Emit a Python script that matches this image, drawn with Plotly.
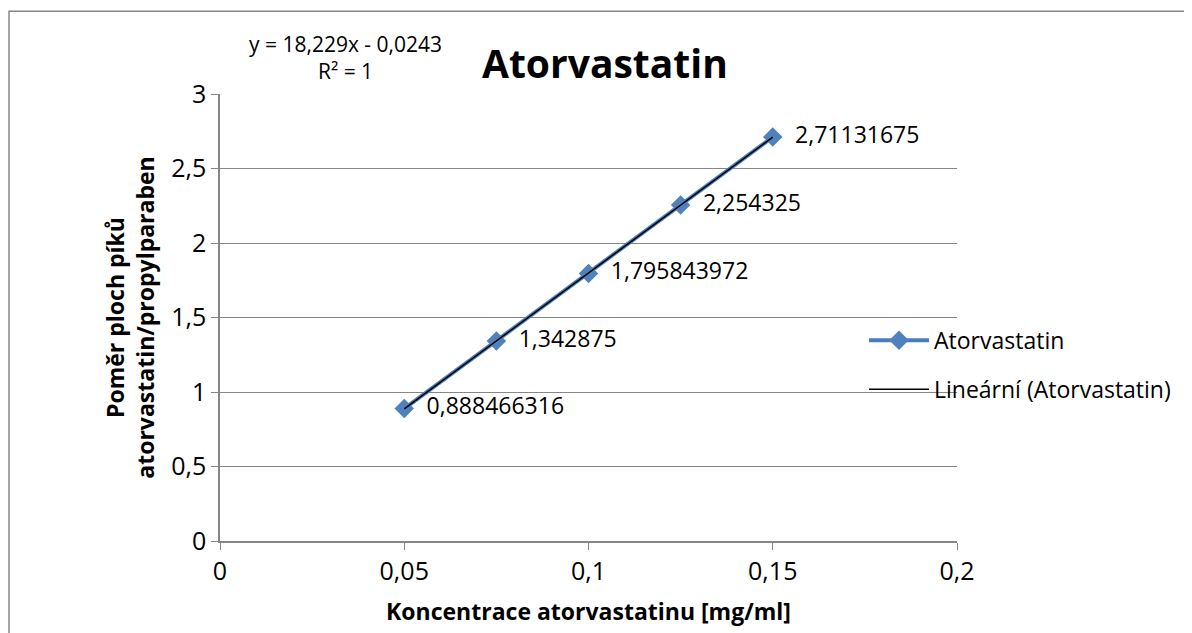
import numpy as np
import plotly.graph_objects as go

conc = [0.05, 0.075, 0.1, 0.125, 0.15]
ratio = [0.888466316, 1.342875, 1.795843972, 2.254325, 2.71131675]
labels = ["0,888466316", "1,342875", "1,795843972", "2,254325", "2,71131675"]
x_ticks = [0, 0.05, 0.1, 0.15, 0.2]
x_tick_text = ["0", "0,05", "0,1", "0,15", "0,2"]
y_ticks = [0, 0.5, 1, 1.5, 2, 2.5, 3]
y_tick_text = ["0", "0,5", "1", "1,5", "2", "2,5", "3"]

slope, intercept = np.polyfit(conc, ratio, 1)
trend_x = [conc[0], conc[-1]]
trend_y = [slope * v + intercept for v in trend_x]

FONT = "Open Sans"
OFF = 8  # page offset of the plot div
W, H = 1192 - OFF, 633 - OFF
PL, PR, PT, PB = 220, 957, 94, 543  # plot area in page pixels
L, T = PL - OFF, PT - OFF
pw, ph = PR - PL, PB - PT
R, B = W - L - pw, H - T - ph

def px(xp):
    return (xp - PL) / pw

def py(yp):
    return (PB - yp) / ph

fig = go.Figure()
fig.add_trace(go.Scatter(
    x=conc, y=ratio, mode="lines+markers+text", name="Atorvastatin",
    legendgroup="a",
    line=dict(color="#4A7EBB", width=4),
    marker=dict(symbol="diamond", size=15, color="#4F81BD"),
    text=["  " + t for t in labels], textposition="middle right",
    textfont=dict(family=FONT, size=23, color="#000000"),
))
fig.add_trace(go.Scatter(
    x=trend_x, y=trend_y, mode="lines", name="Lineární (Atorvastatin)",
    legendgroup="b",
    line=dict(color="#000000", width=1.5),
))

fig.update_layout(
    width=W, height=H,
    margin=dict(l=L, r=R, t=T, b=B),
    paper_bgcolor="white", plot_bgcolor="white",
    font=dict(family=FONT, color="#000000"),
    showlegend=True,
    legend=dict(x=px(864), y=py(366), xanchor="left", yanchor="middle",
                font=dict(family=FONT, size=23), bgcolor="rgba(0,0,0,0)",
                tracegroupgap=16, itemwidth=60),
    xaxis=dict(range=[0, 0.2], tickvals=x_ticks, ticktext=x_tick_text,
               showgrid=False, zeroline=False, showline=True, linecolor="#868686",
               linewidth=1.5, ticks="outside", tickcolor="#868686", ticklen=7,
               tickfont=dict(family=FONT, size=25),
               title=dict(text="<b>Koncentrace atorvastatinu [mg/ml]</b>",
                          font=dict(family=FONT, size=23), standoff=18)),
    yaxis=dict(range=[0, 3], tickvals=y_ticks, ticktext=y_tick_text,
               showgrid=True, gridcolor="#868686", gridwidth=1,
               zeroline=False, showline=True, linecolor="#868686",
               linewidth=1.5, ticks="outside", tickcolor="#868686", ticklen=7,
               tickfont=dict(family=FONT, size=25),
               title=dict(text="<b>Poměr ploch píků<br>atorvastatin/propylparaben</b>",
                          font=dict(family=FONT, size=23), standoff=10)),
    annotations=[
        dict(x=px(605), y=py(62), xref="paper", yref="paper", showarrow=False,
             xanchor="center", yanchor="middle",
             text="<b>Atorvastatin</b>", font=dict(family=FONT, size=39)),
        dict(x=px(345), y=py(57), xref="paper", yref="paper", showarrow=False,
             xanchor="center", yanchor="middle",
             text="y = 18,229x - 0,0243<br>R² = 1", align="center",
             font=dict(family=FONT, size=21)),
    ],
    shapes=[
        dict(type="rect", xref="paper", yref="paper",
             x0=px(9), x1=px(1200), y0=py(650), y1=py(11),
             line=dict(color="#868686", width=1.5), layer="below"),
    ],
)

fig.write_html("out.html")
